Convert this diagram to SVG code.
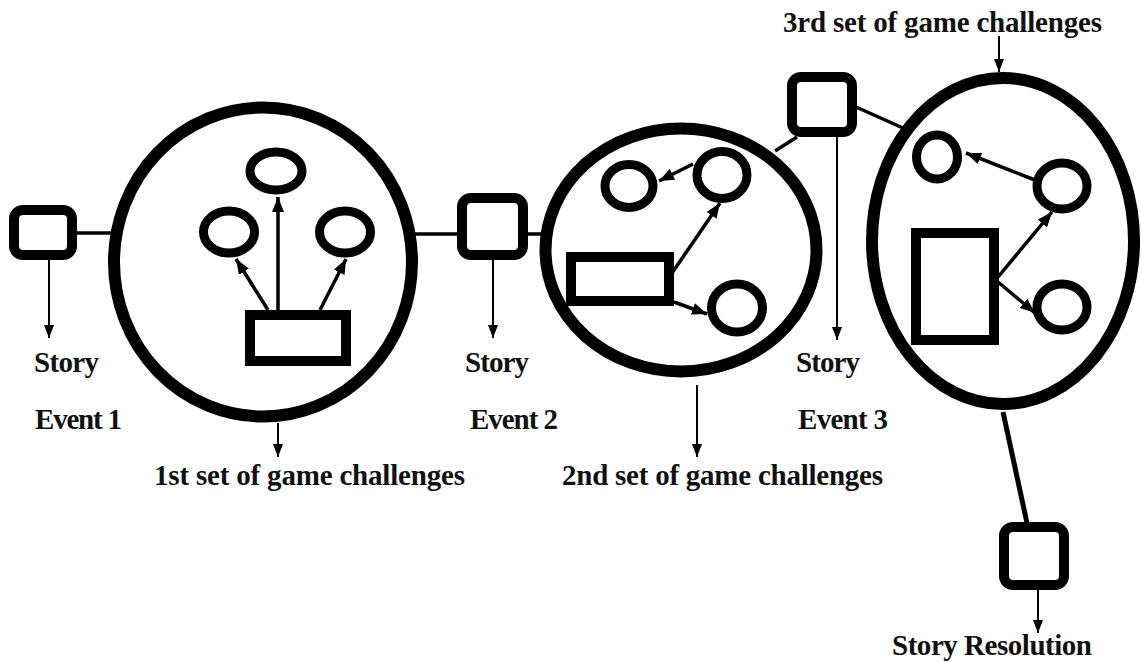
<svg xmlns="http://www.w3.org/2000/svg" width="1142" height="662" viewBox="0 0 1142 662">
<style>
.box{fill:#fff;stroke:#000;stroke-width:10}
.big{fill:#fff;stroke:#000;stroke-width:12}
.small{fill:none;stroke:#000;stroke-width:9}
.rect{fill:#fff;stroke:#000;stroke-width:10}
.link{stroke:#000;stroke-width:3.5;fill:none}
.thin{stroke:#000;stroke-width:2;fill:none;marker-end:url(#ah)}
.inner{stroke:#000;stroke-width:3.5;fill:none;marker-end:url(#ah2)}
text{font-family:"Liberation Serif","Times New Roman",serif;font-weight:bold;font-size:29px;fill:#111}
</style>
<defs>
<marker id="ah" markerUnits="userSpaceOnUse" markerWidth="13" markerHeight="10" refX="13" refY="5" orient="auto">
<path d="M0,0 L13,5 L0,10 z" fill="#000"/>
</marker>
<marker id="ah2" markerUnits="userSpaceOnUse" markerWidth="15" markerHeight="12" refX="15" refY="6" orient="auto">
<path d="M0,0 L15,6 L0,12 z" fill="#000"/>
</marker>
</defs>
<rect width="1142" height="662" fill="#fff"/>
<g id="connectors">
<line class="link" x1="77" y1="233" x2="112" y2="233"/>
<line class="link" x1="414" y1="234" x2="458" y2="234"/>
<line class="link" x1="527" y1="234" x2="542" y2="234"/>
<line class="link" x1="775" y1="151" x2="797" y2="137"/>
<line class="link" x1="856" y1="107" x2="903" y2="128"/>
<line class="link" style="stroke-width:5" x1="1003" y1="412" x2="1027" y2="523"/>
<line class="thin" x1="49" y1="260" x2="49" y2="338"/>
<line class="thin" x1="493" y1="260" x2="493" y2="338"/>
<line class="thin" x1="837" y1="137" x2="837" y2="340"/>
<line class="thin" x1="278" y1="423" x2="278" y2="457"/>
<line class="thin" x1="697" y1="385" x2="697" y2="457"/>
<line class="thin" x1="999" y1="36" x2="999" y2="72"/>
<line class="thin" x1="1038" y1="590" x2="1038" y2="633"/>
</g>
<g id="box1"><rect class="box" x="14" y="210" width="58" height="45" rx="9"/></g>
<g id="box2"><rect class="box" x="462" y="198" width="61" height="57" rx="9"/></g>
<g id="box3"><rect class="box" x="792" y="77" width="60" height="55" rx="9"/></g>
<g id="box4"><rect class="box" x="1004" y="527" width="60" height="58" rx="9"/></g>
<g id="set1">
<ellipse class="big" cx="263" cy="262" rx="149" ry="154.5"/>
<ellipse class="small" cx="276" cy="171" rx="26" ry="19"/>
<ellipse class="small" cx="229" cy="232" rx="25.5" ry="21"/>
<ellipse class="small" cx="345" cy="232" rx="25.5" ry="21"/>
<rect class="rect" x="250" y="315" width="96" height="46"/>
<line class="inner" x1="278" y1="310" x2="278" y2="197"/>
<line class="inner" x1="268" y1="310" x2="236" y2="259"/>
<line class="inner" x1="320" y1="310" x2="346" y2="259"/>
</g>
<g id="set2">
<ellipse class="big" cx="681" cy="250" rx="135.5" ry="121.5"/>
<ellipse class="small" cx="629" cy="186" rx="24" ry="21.5"/>
<ellipse class="small" cx="722" cy="175" rx="25" ry="23.5"/>
<ellipse class="small" cx="737" cy="308" rx="25.5" ry="24"/>
<rect class="rect" x="571" y="257" width="98" height="44"/>
<line class="inner" x1="693" y1="164" x2="659" y2="181"/>
<line class="inner" x1="672" y1="273" x2="720" y2="203"/>
<line class="inner" x1="674" y1="302" x2="707" y2="314"/>
</g>
<g id="set3">
<ellipse class="big" cx="1003" cy="241" rx="131" ry="163"/>
<ellipse class="small" cx="937" cy="157" rx="20.5" ry="22"/>
<ellipse class="small" cx="1062" cy="186" rx="25" ry="23"/>
<ellipse class="small" cx="1062" cy="307" rx="25" ry="23"/>
<rect class="rect" x="916" y="233" width="78" height="107"/>
<line class="inner" x1="1035" y1="180" x2="966" y2="153"/>
<line class="inner" x1="998" y1="277" x2="1052" y2="212"/>
<line class="inner" x1="998" y1="282" x2="1035" y2="313"/>
</g>
<g id="labels">
<text x="34" y="372" textLength="65">Story</text>
<text x="35" y="429" textLength="87">Event 1</text>
<text x="154" y="485" textLength="311">1st set of game challenges</text>
<text x="465" y="372" textLength="64">Story</text>
<text x="470" y="429" textLength="88">Event 2</text>
<text x="562" y="485" textLength="321">2nd set of game challenges</text>
<text x="796" y="372" textLength="64">Story</text>
<text x="798" y="429" textLength="90">Event 3</text>
<text x="783" y="32" textLength="319">3rd set of game challenges</text>
<text x="892" y="655" textLength="200">Story Resolution</text>
</g>
</svg>
